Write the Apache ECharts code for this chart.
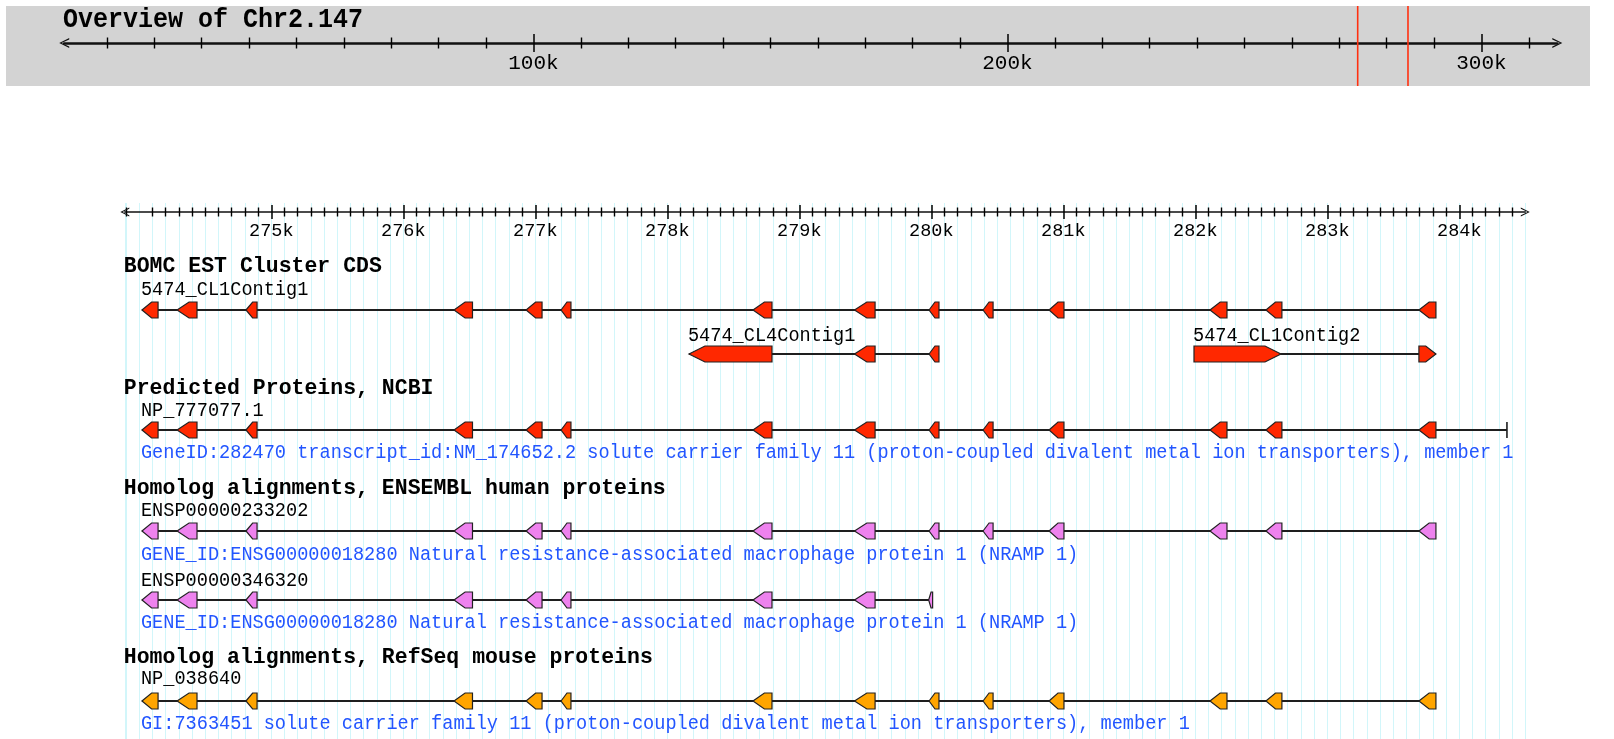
<!DOCTYPE html>
<html>
<head>
<meta charset="utf-8">
<script src="https://cdn.jsdelivr.net/npm/echarts@6/dist/echarts.min.js"></script>
<style>
html,body{margin:0;padding:0;background:#ffffff;}
#chart{width:1614px;height:739px;}
</style>
</head>
<body>
<div id="chart"></div>
<script>
// ---------------- DATA ----------------
const chromosomeName = 'Chr2.147';
const overviewRange = [1000, 316000];              // chromosome extent shown in overview (bp)
const overviewMajorTicks = [100000, 200000, 300000];
const viewRegion = [273890, 284500];                // region displayed in detail (bp)
const detailMajorTicks = [275000, 276000, 277000, 278000, 279000, 280000, 281000, 282000, 283000, 284000];

const trackTitles = [
  'BOMC EST Cluster CDS',
  'Predicted Proteins, NCBI',
  'Homolog alignments, ENSEMBL human proteins',
  'Homolog alignments, RefSeq mouse proteins'
];

const featureNames = ['5474_CL1Contig1', '5474_CL4Contig1', '5474_CL1Contig2', 'NP_777077.1',
  'ENSP00000233202', 'ENSP00000346320', 'NP_038640'];
const featureTrack = [0, 0, 0, 1, 2, 2, 3];
const featureStrand = [-1, -1, 1, -1, -1, -1, -1];

const exonsFull = [
  [274020, 274142], [274286, 274437], [274808, 274892], [276384, 276524], [276930, 277051],
  [277195, 277270], [278649, 278793], [279418, 279574], [279983, 280058], [280392, 280468],
  [280892, 281005], [282111, 282240], [282535, 282656], [283694, 283823]
];
const exonsCL4Contig1 = [[278164, 278793], [279418, 279574], [279983, 280058]];
const exonsCL1Contig2 = [[281990, 282649], [283694, 283823]];
const exonsENSP346320 = [
  [274020, 274142], [274286, 274437], [274808, 274892], [276384, 276524], [276930, 277051],
  [277195, 277270], [278649, 278793], [279418, 279574], [279980, 280010]
];
const featureExons = [exonsFull, exonsCL4Contig1, exonsCL1Contig2, exonsFull, exonsFull, exonsENSP346320, exonsFull];
const featureSpanEnd = [null, null, null, 284361, null, null, null];

const featureDescriptions = [
  '', '', '',
  'GeneID:282470 transcript_id:NM_174652.2 solute carrier family 11 (proton-coupled divalent metal ion transporters), member 1',
  'GENE_ID:ENSG00000018280 Natural resistance-associated macrophage protein 1 (NRAMP 1)',
  'GENE_ID:ENSG00000018280 Natural resistance-associated macrophage protein 1 (NRAMP 1)',
  'GI:7363451 solute carrier family 11 (proton-coupled divalent metal ion transporters), member 1'
];

// ---------------- LAYOUT / STYLE ----------------
const trackColors = ['#ff2800', '#ff2800', '#ee82ee', '#ffa500'];
const trackTitleY = [266.6, 388, 488, 657];
const featureLabelY = [290, 335.5, 335.5, 410.7, 510.5, 580.5, 679];
const featureGlyphY = [310, 354, 354, 430, 531, 600, 701];
const featureDescY = [null, null, null, 453, 555, 623, 723.6];
const glyphH = 16;
const MONO = '"Liberation Mono", "DejaVu Sans Mono", monospace';
const gridColor = '#d2f6fa';

const ovLeft = 64.2, ovRight = 1614 - 1557.3;
const dtLeft = 124.8, dtRight = 1614 - 1525.3;

const chevron = 'path://M0,100 L50,0 L100,100 L86,100 L50,24 L14,100 Z';
const kLabel = v => Math.round(v / 1000) + 'k';

function arrowPoints(x1, x2, yc, h, strand) {
  const w = Math.max(x2 - x1, 1);
  const d = Math.min(16, w * 0.6);
  const t = yc - h / 2, b = yc + h / 2;
  if (strand < 0) return [[x1, yc], [x1 + d, t], [x2, t], [x2, b], [x1 + d, b]];
  return [[x2, yc], [x2 - d, t], [x1, t], [x1, b], [x2 - d, b]];
}

const chart = echarts.init(document.getElementById('chart'), null, {renderer: 'canvas', width: 1614, height: 739});

function rulerPair(gridIndex, range, majors, tickLen, minorLen, lineW, symSize, labelSize, labelMargin, splitNumber) {
  return [
    {
      gridIndex: gridIndex, type: 'value', min: range[0], max: range[1], position: 'top', splitNumber: splitNumber,
      axisLine: {show: true, symbol: [chevron, chevron], symbolSize: symSize, lineStyle: {color: '#111', width: lineW}},
      axisTick: {show: true, inside: false, length: tickLen, customValues: majors, lineStyle: {color: '#000', width: 1.5}},
      minorTick: {show: true, splitNumber: 10, length: minorLen, lineStyle: {color: '#000', width: 1.4}},
      axisLabel: {show: false}, splitLine: {show: false}
    },
    {
      gridIndex: gridIndex, type: 'value', min: range[0], max: range[1], position: 'bottom', splitNumber: splitNumber,
      axisLine: {show: false},
      axisTick: {show: true, inside: false, length: tickLen, customValues: majors, lineStyle: {color: '#000', width: 1.5}},
      minorTick: {show: true, splitNumber: 10, length: minorLen, lineStyle: {color: '#000', width: 1.4}},
      axisLabel: {show: true, customValues: majors, formatter: kLabel, margin: labelMargin, color: '#000', fontSize: labelSize, fontFamily: MONO},
      splitLine: {show: false}
    }
  ];
}

const option = {
  animation: false,
  backgroundColor: '#ffffff',
  graphic: [
    {type: 'rect', shape: {x: 6, y: 6, width: 1584, height: 80}, style: {fill: '#d3d3d3'}, z: -10, silent: true},
    {type: 'text', x: 63, y: 20, z: 10, scaleY: 1.08, style: {text: 'Overview of ' + chromosomeName, font: 'bold 25px ' + MONO, fill: '#000', verticalAlign: 'middle'}}
  ],
  grid: [
    {left: ovLeft, right: ovRight, top: 6, height: 80},
    {left: ovLeft, right: ovRight, top: 43, height: 0},
    {left: dtLeft, right: dtRight, top: 212, height: 0},
    {left: dtLeft, right: dtRight, top: 203, bottom: 0}
  ],
  xAxis: [
    {gridIndex: 0, type: 'value', min: overviewRange[0], max: overviewRange[1], show: false}
  ].concat(
    rulerPair(1, overviewRange, overviewMajorTicks, 9, 5.5, 2.6, [19, 10], 21, 10, 3),
    rulerPair(2, viewRegion, detailMajorTicks, 7, 4.5, 1.6, [16, 9], 18.5, 10, 10),
    [{
      gridIndex: 3, type: 'value', min: viewRegion[0], max: viewRegion[1], position: 'top', splitNumber: 10,
      axisLine: {show: false}, axisTick: {show: false}, axisLabel: {show: false},
      splitLine: {show: true, lineStyle: {color: gridColor, width: 1}},
      minorTick: {show: false, splitNumber: 10},
      minorSplitLine: {show: true, lineStyle: {color: gridColor, width: 1}}
    }]
  ),
  yAxis: [
    {gridIndex: 0, type: 'value', min: 0, max: 1, show: false},
    {gridIndex: 1, type: 'value', min: 0, max: 1, show: false},
    {gridIndex: 2, type: 'value', min: 0, max: 1, show: false},
    {gridIndex: 3, type: 'value', min: 0, max: 1, show: false}
  ],
  series: [
    {
      // current region markers on overview
      type: 'custom', xAxisIndex: 0, yAxisIndex: 0, z: 5,
      data: viewRegion.map(v => [v, 0]),
      renderItem: function (params, api) {
        const x = api.coord([api.value(0), 0])[0];
        const cs = params.coordSys;
        return {type: 'line', shape: {x1: x, y1: cs.y, x2: x, y2: cs.y + cs.height}, style: {stroke: '#ff3010', lineWidth: 1.6}};
      }
    },
    {
      // track titles
      type: 'custom', xAxisIndex: 5, yAxisIndex: 3, z: 6,
      data: trackTitles.map((t, i) => [viewRegion[0], i]),
      renderItem: function (params, api) {
        const i = api.value(1);
        const x = params.coordSys.x - 1;
        return {type: 'text', x: x, y: trackTitleY[i], scaleY: 1.06, style: {text: trackTitles[i], font: 'bold 21.5px ' + MONO, fill: '#000', verticalAlign: 'middle', align: 'left'}};
      }
    },
    {
      // features
      type: 'custom', xAxisIndex: 5, yAxisIndex: 3, z: 7,
      data: featureNames.map((n, i) => [featureExons[i][0][0], i]),
      renderItem: function (params, api) {
        const i = api.value(1);
        const exons = featureExons[i];
        const strand = featureStrand[i];
        const yc = featureGlyphY[i];
        const color = trackColors[featureTrack[i]];
        const px = exons.map(e => [api.coord([e[0], 0])[0], api.coord([e[1], 0])[0]]);
        const startX = px[0][0];
        let endX = px[px.length - 1][1];
        const children = [];
        if (featureSpanEnd[i] != null) endX = api.coord([featureSpanEnd[i], 0])[0];
        children.push({type: 'line', shape: {x1: startX, y1: yc, x2: endX, y2: yc}, style: {stroke: '#1e1e1e', lineWidth: 1.9}});
        if (featureSpanEnd[i] != null) {
          children.push({type: 'line', shape: {x1: endX, y1: yc - glyphH / 2, x2: endX, y2: yc + glyphH / 2}, style: {stroke: '#1e1e1e', lineWidth: 1.6}});
        }
        px.forEach(p => {
          children.push({type: 'polygon', shape: {points: arrowPoints(p[0], p[1], yc, glyphH, strand)},
            style: {fill: color, stroke: '#222', lineWidth: 1.2}});
        });
        children.push({type: 'text', x: startX - 1, y: featureLabelY[i], scaleY: 1.06, style: {text: featureNames[i], font: '18.6px ' + MONO, fill: '#000', verticalAlign: 'middle', align: 'left'}});
        if (featureDescriptions[i]) {
          children.push({type: 'text', x: startX - 1, y: featureDescY[i], scaleY: 1.06, style: {text: featureDescriptions[i], font: '18.6px ' + MONO, fill: '#2255ff', verticalAlign: 'middle', align: 'left'}});
        }
        return {type: 'group', children: children};
      }
    }
  ]
};
chart.setOption(option);
</script>
</body>
</html>
